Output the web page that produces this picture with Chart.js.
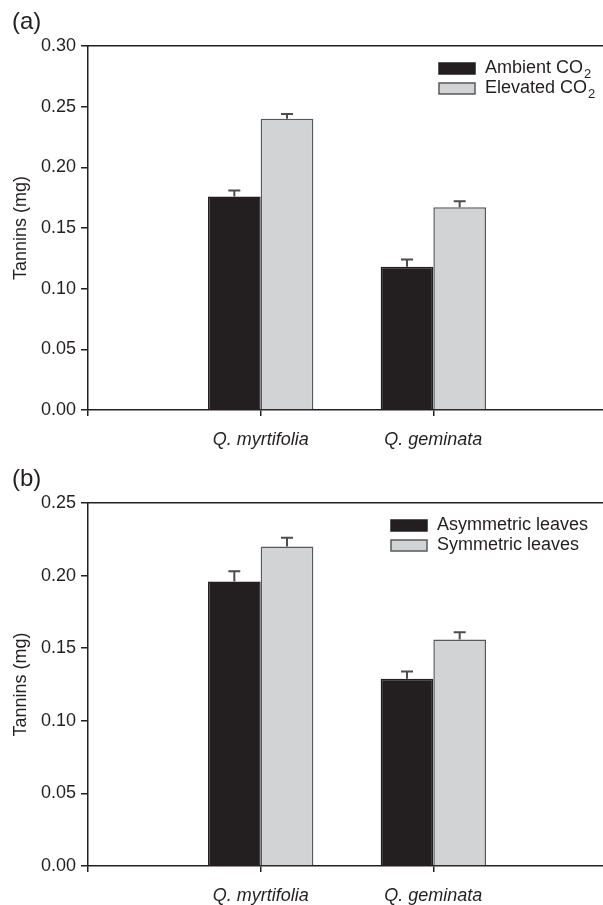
<!DOCTYPE html>
<html>
<head>
<meta charset="utf-8">
<script src="https://cdn.jsdelivr.net/npm/chart.js@4/dist/chart.umd.min.js"></script>
<style>
  html, body { margin: 0; padding: 0; background: #fff; overflow: hidden; width: 603px; height: 905px; }
  canvas { display: block; }
</style>
</head>
<body>
<canvas id="panelA" width="619" height="457"></canvas>
<canvas id="panelB" width="619" height="448"></canvas>
<script>
// categories (blank slots pad the axis on both sides)
const categories = ['', 'Q. myrtifolia', 'Q. geminata', ''];

// panel (a): CO2 treatment
const co2Labels = ['Ambient CO₂', 'Elevated CO₂'];
const ambientCO2 = [null, 0.176, 0.118, null];
const ambientCO2Err = [null, 0.005, 0.006, null];
const elevatedCO2 = [null, 0.240, 0.167, null];
const elevatedCO2Err = [null, 0.004, 0.005, null];
const yMaxA = 0.30;

// panel (b): leaf symmetry
const leafLabels = ['Asymmetric leaves', 'Symmetric leaves'];
const asymmetric = [null, 0.196, 0.129, null];
const asymmetricErr = [null, 0.007, 0.005, null];
const symmetric = [null, 0.220, 0.156, null];
const symmetricErr = [null, 0.006, 0.005, null];
const yMaxB = 0.25;

const yStep = 0.05;

const INK = '#231f20';
const DARK = '#231f20';
const LIGHT = '#d1d3d4';
const EDGE = '#58595b';
const FONT = '"Liberation Sans", Arial, Helvetica, sans-serif';

Chart.defaults.font.family = FONT;
Chart.defaults.font.size = 18;
Chart.defaults.color = INK;

// upper error bars with caps
const errorBars = {
  id: 'errorBars',
  afterDatasetsDraw(chart) {
    const ctx = chart.ctx;
    const y = chart.scales.y;
    ctx.save();
    ctx.strokeStyle = '#4d4d4f';
    ctx.lineWidth = 2;
    chart.data.datasets.forEach((ds, i) => {
      const meta = chart.getDatasetMeta(i);
      meta.data.forEach((bar, j) => {
        const v = ds.data[j];
        if (v == null) return;
        const top = y.getPixelForValue(v + ds.errors[j]);
        ctx.beginPath();
        ctx.moveTo(bar.x, bar.y);
        ctx.lineTo(bar.x, top);
        ctx.moveTo(bar.x - 6, top);
        ctx.lineTo(bar.x + 6, top);
        ctx.stroke();
      });
    });
    ctx.restore();
  }
};

// legend drawn inside the plot, with a real subscript for CO2
const insideLegend = {
  id: 'insideLegend',
  afterDraw(chart, args, opts) {
    const ctx = chart.ctx;
    ctx.save();
    ctx.textBaseline = 'middle';
    chart.data.datasets.forEach((ds, i) => {
      const yy = chart.chartArea.top + opts.top + i * 20;
      ctx.fillStyle = ds.backgroundColor;
      ctx.strokeStyle = ds.borderColor;
      ctx.lineWidth = 1.5;
      ctx.fillRect(opts.x, yy - 5, 36, 11);
      ctx.strokeRect(opts.x, yy - 5, 36, 11);
      ctx.fillStyle = INK;
      const parts = ds.label.split('₂');
      ctx.font = '18px ' + FONT;
      let tx = opts.x + 46;
      ctx.fillText(parts[0], tx, yy);
      if (parts.length > 1) {
        tx += ctx.measureText(parts[0]).width;
        ctx.font = '13px ' + FONT;
        ctx.fillText('2', tx + 1, yy + 6);
      }
    });
    ctx.restore();
  }
};

function makePanel(id, tag, labels, series, errors, yMax, xHeight, legendX) {
  new Chart(document.getElementById(id), {
    type: 'bar',
    data: {
      labels: categories,
      datasets: [
        { label: labels[0], data: series[0], errors: errors[0], backgroundColor: DARK, borderColor: INK, borderWidth: 1.5, xAxisID: 'x', yAxisID: 'y' },
        { label: labels[1], data: series[1], errors: errors[1], backgroundColor: LIGHT, borderColor: EDGE, borderWidth: 1.5, xAxisID: 'x', yAxisID: 'y' }
      ]
    },
    options: {
      responsive: false,
      animation: false,
      events: [],
      categoryPercentage: 0.61,
      barPercentage: 1.0,
      layout: { padding: { left: 12, right: 0, top: 0, bottom: 0 } },
      plugins: {
        legend: { display: false },
        tooltip: { enabled: false },
        title: {
          display: true, text: tag, align: 'start', color: INK,
          font: { size: 24, weight: 'normal', lineHeight: 1.2 },
          padding: { top: 8, bottom: 9.2 }
        },
        insideLegend: { x: legendX, top: 22 }
      },
      scales: {
        x: {
          offset: false,
          grid: { offset: false, drawOnChartArea: false, drawTicks: true, tickLength: 6, color: INK, lineWidth: 1.5 },
          border: { display: true, color: INK, width: 1.5 },
          ticks: { font: { style: 'italic', size: 18 }, color: INK, padding: 13, maxRotation: 0, autoSkip: false },
          afterFit(s) { s.height = xHeight; }
        },
        x2: {
          type: 'linear', position: 'top', display: true,
          grid: { display: false, drawTicks: false },
          border: { display: true, color: INK, width: 1.5 },
          ticks: { display: false },
          afterFit(s) { s.height = 0; }
        },
        y: {
          min: 0, max: yMax,
          grid: { drawOnChartArea: false, drawTicks: true, tickLength: 7, color: INK, lineWidth: 1.5 },
          border: { display: true, color: INK, width: 1.5 },
          ticks: { stepSize: yStep, padding: 5, color: INK, callback: v => v.toFixed(2) },
          title: { display: true, text: 'Tannins (mg)', color: INK, font: { size: 18, lineHeight: 1.0 }, padding: { top: 0, bottom: 0 } },
          afterFit(s) { s.width = 76; }
        }
      }
    },
    plugins: [errorBars, insideLegend]
  });
}

makePanel('panelA', '(a)', co2Labels, [ambientCO2, elevatedCO2], [ambientCO2Err, elevatedCO2Err], yMaxA, 47, 439);
makePanel('panelB', '(b)', leafLabels, [asymmetric, symmetric], [asymmetricErr, symmetricErr], yMaxB, 39, 391);
</script>
</body>
</html>
